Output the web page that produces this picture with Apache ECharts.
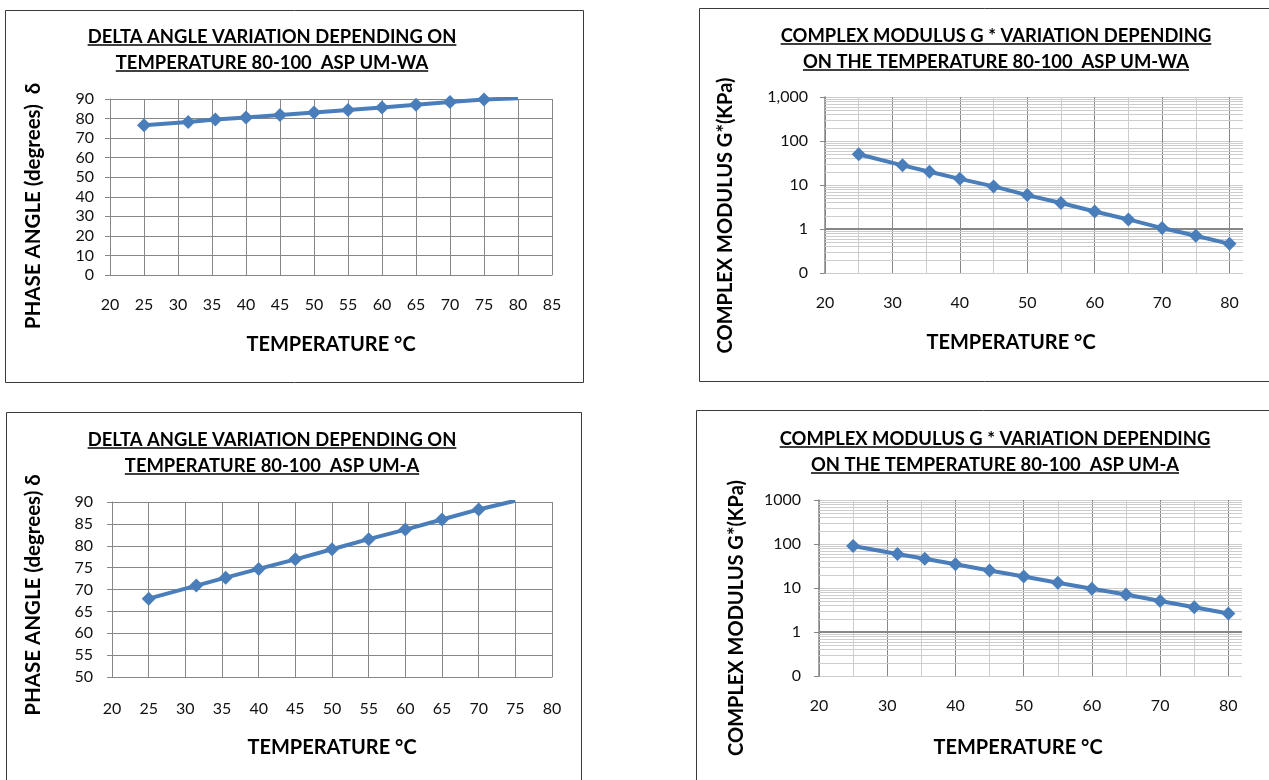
<!DOCTYPE html>
<html><head><meta charset="utf-8">
<script src="https://cdn.jsdelivr.net/npm/echarts@6/dist/echarts.min.js"></script>
<style>html,body{margin:0;padding:0;background:#fff}#c{width:1269px;height:780px}</style>
</head><body><div id="c"></div>
<script>
// ---------- data ----------
const temps   = [25, 31.5, 35.5, 40, 45, 50, 55, 60, 65, 70, 75, 80];
const phaseWA = [76.6, 78.2, 79.5, 80.6, 81.8, 83.1, 84.4, 85.7, 87.1, 88.5, 89.7, 90.4];
const gWA     = [50, 28, 20, 13.8, 9.3, 5.9, 3.9, 2.5, 1.65, 1.05, 0.7, 0.46];
const tempsA  = [25, 31.5, 35.5, 40, 45, 50, 55, 60, 65, 70, 75];
const phaseA  = [67.9, 70.9, 72.7, 74.7, 76.9, 79.2, 81.5, 83.7, 86.0, 88.3, 90.3];
const gA      = [90, 59, 46, 34.5, 25, 18.2, 13.2, 9.6, 7.1, 5.05, 3.65, 2.63];
const logTicks    = [0.1, 1, 10, 100, 1000];
const logLabelsWA = ['0', '1', '10', '100', '1,000'];
const logLabelsA  = ['0', '1', '10', '100', '1000'];
const minorMult   = [2, 3, 4, 5, 6, 7, 8, 9];
const decades     = [0.1, 1, 10, 100];
const logAxisCross = 1;   // horizontal axis crosses the log axis at 1

const titles = [
  ['DELTA ANGLE VARIATION DEPENDING ON', 'TEMPERATURE 80-100  ASP UM-WA'],
  ['COMPLEX MODULUS G * VARIATION DEPENDING', 'ON THE TEMPERATURE 80-100  ASP UM-WA'],
  ['DELTA ANGLE VARIATION DEPENDING ON', 'TEMPERATURE 80-100  ASP UM-A'],
  ['COMPLEX MODULUS G * VARIATION DEPENDING', 'ON THE TEMPERATURE 80-100  ASP UM-A']
];
const xName = 'TEMPERATURE °C';
const yNames = ['PHASE ANGLE (degrees)  δ', 'COMPLEX MODULUS G*(KPa)', 'PHASE ANGLE (degrees) δ', 'COMPLEX MODULUS G*(KPa)'];

// ---------- style ----------
const FONT = 'Lato, "Open Sans", "DejaVu Sans", sans-serif';
const BLUE = '#4A7EBB';
const MAJOR = '#878787';
const MINOR = '#cdcdcd';
const TXT = '#111';

const grids = [
  {left: 110, top: 99,  width: 442, height: 176},
  {left: 825, top: 97,  width: 418, height: 176},
  {left: 112, top: 502, width: 440, height: 175},
  {left: 819, top: 500, width: 423, height: 176}
];

const labelStyle = (margin) => ({fontFamily: FONT, fontSize: 16, color: TXT, margin});
const nameStyle = (padding, size) => ({fontFamily: FONT, fontSize: size || 20, fontWeight: 'bold', color: '#000', padding});

function linX(gi, min, max, margin, nameGap, namePad) {
  return {
    type: 'value', gridIndex: gi, min, max, interval: 5,
    name: xName, nameLocation: 'middle', nameGap, nameTextStyle: nameStyle(namePad),
    axisLine: {show: true, lineStyle: {color: MAJOR, width: 1}},
    axisTick: {show: false},
    axisLabel: labelStyle(margin),
    splitLine: {show: true, lineStyle: {color: MAJOR, width: 1}}
  };
}
function logX(gi, margin, nameGap, namePad) {
  // major lines every 10, lighter ones every 5 in between
  const cols = [];
  for (let v = 20; v <= 80; v += 5) cols.push(v % 10 === 0 ? MAJOR : MINOR);
  cols.push('rgba(0,0,0,0)');
  return {
    type: 'value', gridIndex: gi, min: 20, max: 82, interval: 5,
    name: xName, nameLocation: 'middle', nameGap, nameTextStyle: nameStyle(namePad),
    axisLine: {show: false},
    axisTick: {show: false},
    axisLabel: Object.assign(labelStyle(margin), {
      showMaxLabel: false,
      formatter: v => (Math.round(v) % 10 === 0 && v <= 80) ? String(Math.round(v)) : ''
    }),
    splitLine: {show: true, showMaxLine: false, lineStyle: {color: cols, width: 1}}
  };
}
function linY(gi, min, max, interval, margin, nameGap, namePad, name) {
  return {
    type: 'value', gridIndex: gi, min, max, interval,
    name, nameLocation: 'middle', nameGap, nameRotate: 90, nameTextStyle: nameStyle(namePad, 20.5),
    axisLine: {show: true, lineStyle: {color: MAJOR, width: 1}},
    axisTick: {show: true, inside: false, length: 5, lineStyle: {color: MAJOR}},
    axisLabel: labelStyle(margin),
    splitLine: {show: true, lineStyle: {color: MAJOR, width: 1}}
  };
}
function logY(gi, labels, margin, nameGap, namePad, name) {
  return {
    type: 'log', logBase: 10, gridIndex: gi, min: 0.1, max: 1000,
    name, nameLocation: 'middle', nameGap, nameRotate: 90, nameTextStyle: nameStyle(namePad),
    axisLine: {show: true, lineStyle: {color: MAJOR, width: 1.5}},
    axisTick: {show: true, inside: false, length: 5, lineStyle: {color: MAJOR}},
    axisLabel: Object.assign(labelStyle(margin), {
      formatter: v => {
        let best = 0;
        logTicks.forEach((t, i) => { if (Math.abs(Math.log10(v) - Math.log10(t)) < Math.abs(Math.log10(v) - Math.log10(logTicks[best]))) best = i; });
        return labels[best];
      }
    }),
    splitLine: {show: true, lineStyle: {color: MINOR, width: 1}}
  };
}

function mainSeries(xi, xs, ys) {
  return {
    type: 'line', xAxisIndex: xi, yAxisIndex: xi, z: 5,
    data: xs.map((x, i) => [x, ys[i]]),
    clip: true, animation: false,
    symbol: 'diamond', symbolSize: 14,
    lineStyle: {color: BLUE, width: 4},
    itemStyle: {color: BLUE, borderWidth: 0}
  };
}
const minorVals = [];
decades.forEach(d => minorMult.forEach(m => minorVals.push(m * d)));
function minorSeries(xi) {
  const lines = minorVals.map(v => ({yAxis: v}));
  lines.push({yAxis: logAxisCross, lineStyle: {color: MAJOR, width: 2, type: 'solid'}});
  return {
    type: 'line', xAxisIndex: xi, yAxisIndex: xi, z: 1, data: [], animation: false, silent: true,
    markLine: {
      silent: true, symbol: ['none', 'none'], animation: false,
      label: {show: false},
      lineStyle: {color: MINOR, type: 'solid', width: 1},
      data: lines
    }
  };
}

// ---------- titles, frames ----------
const ctx = document.createElement('canvas').getContext('2d');
const TFONT = 'bold 18.4px ' + FONT;
ctx.font = TFONT;
const titlePos = [
  {cx: 272, y: [37, 63], u: [45, 71]},
  {cx: 996, y: [36, 62], u: [44, 70]},
  {cx: 272, y: [440, 466], u: [448, 474]},
  {cx: 995, y: [439, 465], u: [447, 473]}
];
const graphics = [];
const frames = [
  {x: 5.5, y: 10.5, w: 578, h: 372},
  {x: 699.5, y: 8.5, w: 600, h: 373},
  {x: 6.5, y: 412.5, w: 575, h: 400},
  {x: 696.5, y: 410.5, w: 600, h: 400}
];
frames.forEach(f => graphics.push({type: 'rect', silent: true, shape: {x: f.x, y: f.y, width: f.w, height: f.h},
  style: {fill: 'none', stroke: '#3a3a3a', lineWidth: 1}}));
titles.forEach((lines, i) => {
  const p = titlePos[i];
  lines.forEach((t, j) => {
    const w = ctx.measureText(t).width;
    graphics.push({type: 'text', silent: true, x: p.cx, y: p.y[j],
      style: {text: t, font: TFONT, fill: '#000', align: 'center', verticalAlign: 'middle', textAlign: 'center', textVerticalAlign: 'middle'}});
    graphics.push({type: 'line', silent: true, shape: {x1: p.cx - w / 2, y1: p.u[j], x2: p.cx + w / 2, y2: p.u[j]},
      style: {stroke: '#000', lineWidth: 1.5}});
  });
});

const option = {
  backgroundColor: '#fff',
  animation: false,
  grid: grids.map(g => Object.assign({containLabel: false}, g)),
  xAxis: [
    linX(0, 20, 85, 22, 60, [0, 0, 0, 0]),
    logX(1, 22, 60, [0, 46, 0, 0]),
    linX(2, 20, 80, 24, 61, [0, 0, 0, 0]),
    logX(3, 22, 62, [0, 25, 0, 0])
  ],
  yAxis: [
    linY(0, 0, 90, 10, 16, 66, [0, 38, 0, 0], yNames[0]),
    logY(1, logLabelsWA, 17, 89, [0, 61, 0, 0], yNames[1]),
    linY(2, 50, 90, 5, 19, 68, [0, 11, 0, 0], yNames[2]),
    logY(3, logLabelsA, 18, 72, [0, 60, 0, 0], yNames[3])
  ],
  series: [
    minorSeries(1), minorSeries(3),
    mainSeries(0, temps, phaseWA),
    mainSeries(1, temps, gWA),
    mainSeries(2, tempsA, phaseA),
    mainSeries(3, temps, gA)
  ],
  graphic: graphics
};
const chart = echarts.init(document.getElementById('c'), null, {renderer: 'canvas'});
chart.setOption(option);
</script></body></html>
